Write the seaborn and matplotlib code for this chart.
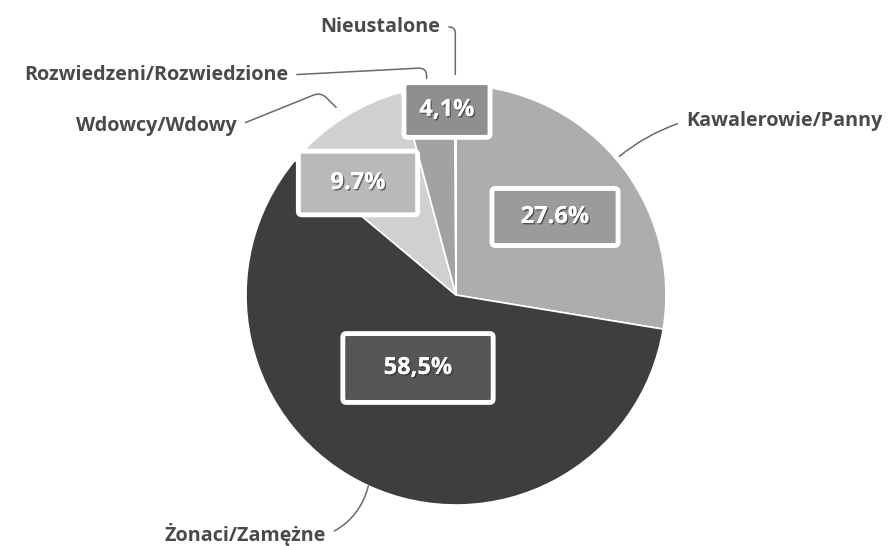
import matplotlib
matplotlib.use("Agg")
import matplotlib.pyplot as plt
import matplotlib.patheffects as pe
import numpy as np
import seaborn as sns

# ---- data ----
categories = ["Kawalerowie/Panny", "Żonaci/Zamężne", "Wdowcy/Wdowy",
              "Rozwiedzeni/Rozwiedzione", "Nieustalone"]
values = [27.6, 58.5, 9.7, 4.1, 0.1]
pct_labels = ["27.6%", "58,5%", "9.7%", "4,1%", ""]

slice_colors = ["#adadad", "#3e3e3e", "#d0d0d0", "#a2a2a2", "#9a9a9a"]
box_colors = ["#9b9b9b", "#565656", "#b9b9b9", "#8f8f8f", "#8f8f8f"]

sns.set_theme(style="white")
plt.rcParams["font.family"] = ["Open Sans", "DejaVu Sans"]

W, H = 888, 546
CX, CY, R = 456, 295, 210

fig = plt.figure(figsize=(W / 100, H / 100), dpi=100)
ax = fig.add_axes([0, 0, 1, 1])


def px(x, y):
    return ((x - CX) / R, (CY - y) / R)


wedges, _ = ax.pie(values, colors=slice_colors, startangle=90, counterclock=False,
                   radius=1.0, center=(0, 0),
                   wedgeprops=dict(edgecolor="white", linewidth=1.2))
x0, _ = px(0, 0)
x1, _ = px(W, 0)
_, y0 = px(0, H)
_, y1 = px(0, 0)
ax.set_xlim(x0, x1)
ax.set_ylim(y0, y1)
ax.axis("off")

# ---- percentage boxes ----
box_pos = [px(555, 217), px(418, 368), px(358, 183), px(447, 110), None]
box_text = ["  {}  ", "   {}   ", "  {}  ", "{}", ""]
box_pad = [0.7, 0.95, 0.84, 0.65, 0]
for i, lab in enumerate(pct_labels):
    if not lab:
        continue
    t = ax.text(box_pos[i][0], box_pos[i][1], box_text[i].format(lab),
                ha="center", va="center", fontsize=17, fontweight="bold",
                color="white", zorder=5,
                bbox=dict(boxstyle=f"round,pad={box_pad[i]},rounding_size=0.15",
                          facecolor=box_colors[i], edgecolor="white",
                          linewidth=3.5))
    t.set_path_effects([pe.withSimplePatchShadow(offset=(1, -1),
                                                 shadow_rgbFace="#222222",
                                                 alpha=0.6), pe.Normal()])

# ---- category labels with leader lines ----
label_cfg = [
    # text pos, ha, relpos, connection, leader end radius
    (px(686, 121), "left", (0.0, 0.5), "arc3,rad=0.1", 1.02),
    (px(326, 535), "right", (1.0, 0.5), "arc3,rad=0.25", 1.0),
    (px(237, 126), "right", (1.0, 0.5), "angle,angleA=22,angleB=135,rad=8", 1.06),
    (px(288, 75), "right", (1.0, 0.5), "angle,angleA=3,angleB=90,rad=8", 1.04),
    (px(440, 27), "right", (1.0, 0.5), "angle,angleA=0,angleB=90,rad=6", 1.05),
]
for w, name, (pos, ha, rel, conn, rr) in zip(wedges, categories, label_cfg):
    mid = np.deg2rad((w.theta1 + w.theta2) / 2)
    xy = (rr * np.cos(mid), rr * np.sin(mid))
    ax.annotate(name, xy=xy, xytext=pos, ha=ha, va="center",
                fontsize=14.2, fontweight="bold", color="#4a4a4a",
                annotation_clip=False,
                arrowprops=dict(arrowstyle="-", color="#6a6a6a", lw=1.1,
                                relpos=rel, connectionstyle=conn,
                                shrinkA=4, shrinkB=0))

fig.savefig("out.png", dpi=100)
